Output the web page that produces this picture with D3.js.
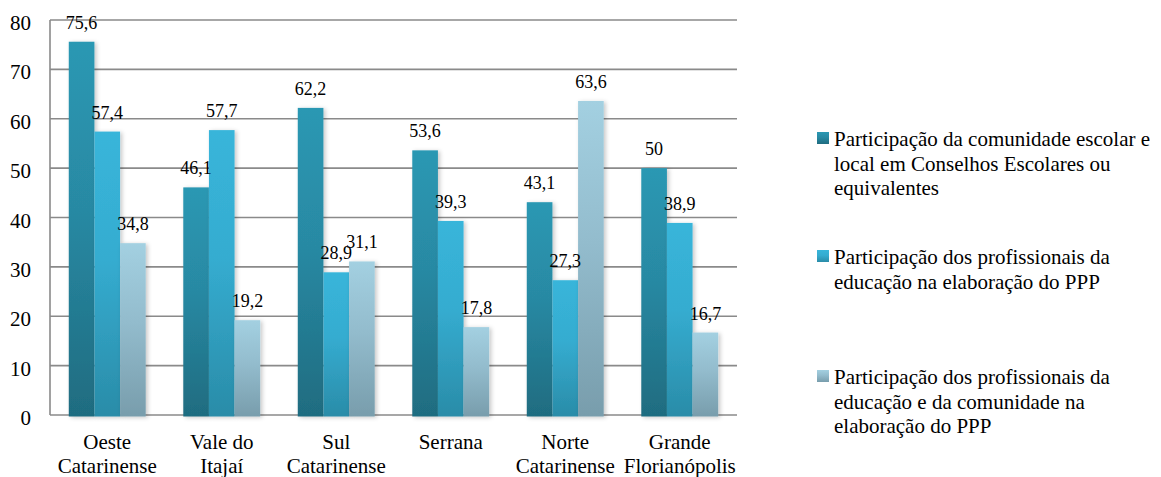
<!DOCTYPE html>
<html>
<head>
<meta charset="utf-8">
<script src="https://cdn.jsdelivr.net/npm/d3@7"></script>
<style>
  html, body { margin: 0; padding: 0; background: #fff; }
  svg { display: block; }
</style>
</head>
<body>
<svg id="chart" width="1161" height="477"></svg>
<script>
const categories = [
  ["Oeste", "Catarinense"],
  ["Vale do", "Itajaí"],
  ["Sul", "Catarinense"],
  ["Serrana"],
  ["Norte", "Catarinense"],
  ["Grande", "Florianópolis"]
];
const seriesNames = [
  ["Participação da comunidade escolar e", "local em Conselhos Escolares ou", "equivalentes"],
  ["Participação dos profissionais da", "educação na elaboração do PPP"],
  ["Participação dos profissionais da", "educação e da comunidade na", "elaboração do PPP"]
];
const series1 = [75.6, 46.1, 62.2, 53.6, 43.1, 50];
const series2 = [57.4, 57.7, 28.9, 39.3, 27.3, 38.9];
const series3 = [34.8, 19.2, 31.1, 17.8, 63.6, 16.7];
const dataLabels1 = ["75,6", "46,1", "62,2", "53,6", "43,1", "50"];
const dataLabels2 = ["57,4", "57,7", "28,9", "39,3", "27,3", "38,9"];
const dataLabels3 = ["34,8", "19,2", "31,1", "17,8", "63,6", "16,7"];
const yTicks = [0, 10, 20, 30, 40, 50, 60, 70, 80];

const seriesValues = [series1, series2, series3];
const seriesLabels = [dataLabels1, dataLabels2, dataLabels3];
const gradStops = [
  ["#2b98b3", "#2889a3", "#1f6c80"],
  ["#38b5da", "#35acd0", "#2a8ca8"],
  ["#a3d0e1", "#93bccd", "#789dac"]
];
const FONT = "'Liberation Serif', Tinos, 'Times New Roman', 'Noto Serif', 'DejaVu Serif', FreeSerif, 'Nimbus Roman', 'Nimbus Roman No9 L', Times, serif";

const svg = d3.select("#chart").attr("font-family", FONT);
const margin = { left: 50, right: 424, top: 20, bottom: 62 };
const W = 1161, H = 477;
const plotL = margin.left, plotR = W - margin.right, plotT = margin.top, plotB = H - margin.bottom;

const defs = svg.append("defs");
gradStops.forEach((c, i) => {
  const g = defs.append("linearGradient").attr("id", "g" + i)
    .attr("x1", 0).attr("y1", 0).attr("x2", 0).attr("y2", 1);
  g.append("stop").attr("offset", "0%").attr("stop-color", c[0]);
  g.append("stop").attr("offset", "45%").attr("stop-color", c[1]);
  g.append("stop").attr("offset", "100%").attr("stop-color", c[2]);
});
const f = defs.append("filter").attr("id", "shadow")
  .attr("x", "-20%").attr("y", "-5%").attr("width", "150%").attr("height", "115%");
f.append("feDropShadow").attr("dx", 2).attr("dy", 1).attr("stdDeviation", 2)
  .attr("flood-color", "#000").attr("flood-opacity", 0.22);

const x0 = d3.scaleBand().domain(d3.range(categories.length))
  .range([plotL, plotR]).paddingInner(0.328).paddingOuter(0.164);
const x1 = d3.scaleBand().domain(d3.range(3)).range([0, x0.bandwidth()]);
const y = d3.scaleLinear().domain([0, 80]).range([plotB, plotT]);

// gridlines
svg.append("g").selectAll("line").data(yTicks).join("line")
  .attr("x1", plotL).attr("x2", plotR)
  .attr("y1", d => y(d)).attr("y2", d => y(d))
  .attr("stroke", "#8a8a8a").attr("stroke-width", 1.6);

// left axis line
svg.append("line").attr("x1", plotL).attr("x2", plotL)
  .attr("y1", plotT).attr("y2", plotB)
  .attr("stroke", "#8a8a8a").attr("stroke-width", 1.6);

// y tick labels
svg.append("g").selectAll("text").data(yTicks).join("text")
  .attr("x", 31).attr("y", d => y(d) + 10)
  .attr("text-anchor", "end").attr("font-size", 21).attr("fill", "#000")
  .attr("font-family", FONT)
  .text(d => d);

// bars
const groups = svg.append("g").selectAll("g").data(categories).join("g")
  .attr("transform", (d, i) => `translate(${x0(i)},0)`);
groups.each(function(cat, ci) {
  const g = d3.select(this);
  seriesValues.forEach((vals, si) => {
    g.append("rect")
      .attr("x", x1(si)).attr("width", x1.bandwidth())
      .attr("y", y(vals[ci])).attr("height", y(0) - y(vals[ci]) + 1.5)
      .attr("fill", `url(#g${si})`)
      .attr("filter", "url(#shadow)");
  });
});
groups.each(function(cat, ci) {
  const g = d3.select(this);
  seriesValues.forEach((vals, si) => {
    g.append("text")
      .attr("x", x1(si) + x1.bandwidth() / 2)
      .attr("y", y(vals[ci]) - 13)
      .attr("text-anchor", "middle").attr("font-size", 18).attr("fill", "#000")
      .attr("font-family", FONT)
      .text(seriesLabels[si][ci]);
  });
});

// category labels
svg.append("g").selectAll("text").data(categories).join("text")
  .attr("text-anchor", "middle").attr("font-size", 21).attr("fill", "#000")
  .attr("font-family", FONT)
  .attr("transform", (d, i) => `translate(${x0(i) + x0.bandwidth() / 2},0)`)
  .each(function(lines) {
    d3.select(this).selectAll("tspan").data(lines).join("tspan")
      .attr("x", 0).attr("y", (l, k) => 449 + k * 24).text(l => l);
  });

// legend
const legendY = [146, 264, 384];
const lg = svg.append("g");
seriesNames.forEach((lines, si) => {
  lg.append("rect").attr("x", 817).attr("y", legendY[si] - 14)
    .attr("width", 12).attr("height", 12).attr("fill", `url(#g${si})`);
  const t = lg.append("text").attr("font-size", 21).attr("fill", "#000")
    .attr("font-family", FONT);
  lines.forEach((l, k) => {
    t.append("tspan").attr("x", 834).attr("y", legendY[si] + k * 24.5).text(l);
  });
});
</script>
</body>
</html>
